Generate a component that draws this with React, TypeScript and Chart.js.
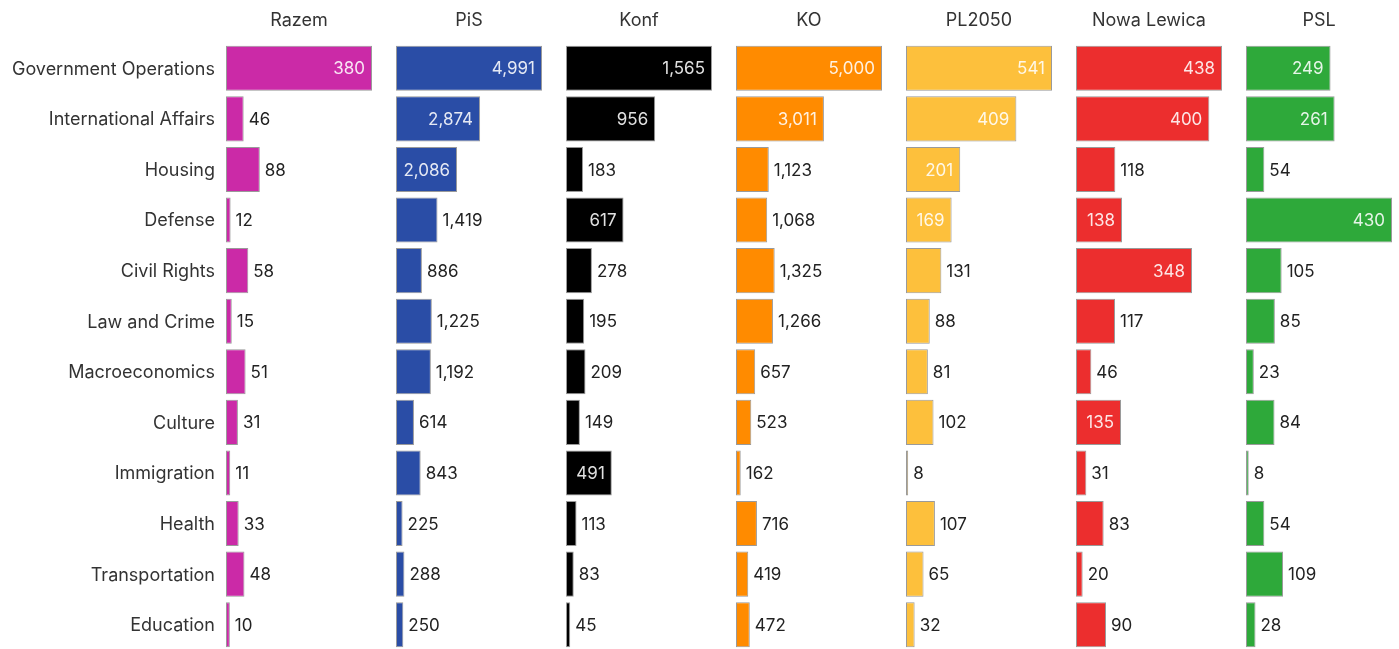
import React, { useEffect, useRef } from "react";
import { Chart, registerables } from "chart.js";

Chart.register(...registerables);

const categories = [
  "Government Operations",
  "International Affairs",
  "Housing",
  "Defense",
  "Civil Rights",
  "Law and Crime",
  "Macroeconomics",
  "Culture",
  "Immigration",
  "Health",
  "Transportation",
  "Education",
];

const parties = ["Razem", "PiS", "Konf", "KO", "PL2050", "Nowa Lewica", "PSL"];

const razem = [380, 46, 88, 12, 58, 15, 51, 31, 11, 33, 48, 10];
const pis = [4991, 2874, 2086, 1419, 886, 1225, 1192, 614, 843, 225, 288, 250];
const konf = [1565, 956, 183, 617, 278, 195, 209, 149, 491, 113, 83, 45];
const ko = [5000, 3011, 1123, 1068, 1325, 1266, 657, 523, 162, 716, 419, 472];
const pl2050 = [541, 409, 201, 169, 131, 88, 81, 102, 8, 107, 65, 32];
const nowaLewica = [438, 400, 118, 138, 348, 117, 46, 135, 31, 83, 20, 90];
const psl = [249, 261, 54, 430, 105, 85, 23, 84, 8, 54, 109, 28];

const seriesValues = [razem, pis, konf, ko, pl2050, nowaLewica, psl];
const partyColors = ["#CB2AA7", "#2A4DA6", "#000000", "#FF8B00", "#FDC03C", "#EC2E2E", "#2EA93A"];

const FONT = "Inter, 'Noto Sans', sans-serif";
const LABEL_W = 226;
const PANEL_W = 146;
const PITCH = 170;
const CANVAS_H = 652;
const PAD_R = 2;

const valueLabels = {
  id: "valueLabels",
  afterDatasetsDraw(chart: any) {
    const ctx = chart.ctx;
    const meta = chart.getDatasetMeta(0);
    const data = chart.data.datasets[0].data as number[];
    const max = chart.scales.x.max;
    ctx.save();
    ctx.font = `17px ${FONT}`;
    ctx.textBaseline = "middle";
    meta.data.forEach((el: any, i: number) => {
      const v = data[i];
      const { x, y } = el.getProps(["x", "y"], true);
      const txt = v.toLocaleString("en-US");
      if (v / max >= 0.3) {
        ctx.textAlign = "right";
        ctx.fillStyle = "rgba(255,255,255,0.88)";
        ctx.fillText(txt, x - 7, y + 1);
      } else {
        ctx.textAlign = "left";
        ctx.fillStyle = "#222";
        ctx.fillText(txt, x + 5, y + 1);
      }
    });
    ctx.restore();
  },
};

const categoryLabels = {
  id: "categoryLabels",
  afterDraw(chart: any) {
    if (!chart.options.plugins.categoryLabels?.show) return;
    const ctx = chart.ctx;
    const yScale = chart.scales.y;
    const labels = chart.data.labels as string[];
    ctx.save();
    ctx.font = `18px ${FONT}`;
    ctx.fillStyle = "#333";
    ctx.textAlign = "right";
    ctx.textBaseline = "middle";
    labels.forEach((lab, i) => {
      ctx.fillText(lab, chart.chartArea.left - 11, yScale.getPixelForValue(i) + 1);
    });
    ctx.restore();
  },
};

function Panel({ index }: { index: number }) {
  const ref = useRef<HTMLCanvasElement | null>(null);
  const first = index === 0;
  const left = first ? 0 : LABEL_W + PITCH * index;
  const width = first ? LABEL_W + PANEL_W + PAD_R : PANEL_W + PAD_R;

  useEffect(() => {
    if (!ref.current) return;
    const values = seriesValues[index];
    const chart = new Chart(ref.current, {
      type: "bar",
      data: {
        labels: categories,
        datasets: [
          {
            data: values,
            backgroundColor: partyColors[index],
            borderColor: "rgba(120,120,120,0.75)",
            borderWidth: 1,
            borderSkipped: false,
            categoryPercentage: 0.89,
            barPercentage: 1,
          },
        ],
      },
      options: {
        indexAxis: "y",
        animation: false,
        responsive: true,
        maintainAspectRatio: false,
        devicePixelRatio: 1,
        layout: { padding: { left: first ? LABEL_W : 0, right: PAD_R, top: 0, bottom: 2 } },
        plugins: {
          legend: { display: false },
          tooltip: { enabled: false },
          categoryLabels: { show: first },
          title: {
            display: true,
            text: parties[index],
            fullSize: false,
            color: "#333",
            font: { family: FONT, size: 18, weight: "normal" },
            padding: { top: 10, bottom: 11.4 },
          },
        },
        scales: {
          x: {
            display: false,
            min: 0,
            max: Math.max(...values),
          },
          y: {
            display: false,
          },
        },
      },
      plugins: [valueLabels, categoryLabels],
    } as any);
    return () => chart.destroy();
  }, [index]);

  return (
    <div style={{ position: "absolute", left, top: 0, width, height: CANVAS_H }}>
      <canvas ref={ref} />
    </div>
  );
}

export default function App() {
  return (
    <div
      style={{
        position: "fixed",
        left: 0,
        top: 0,
        width: 1399,
        height: 649,
        overflow: "hidden",
        background: "#fff",
      }}
    >
      {parties.map((_, i) => (
        <Panel key={i} index={i} />
      ))}
    </div>
  );
}
